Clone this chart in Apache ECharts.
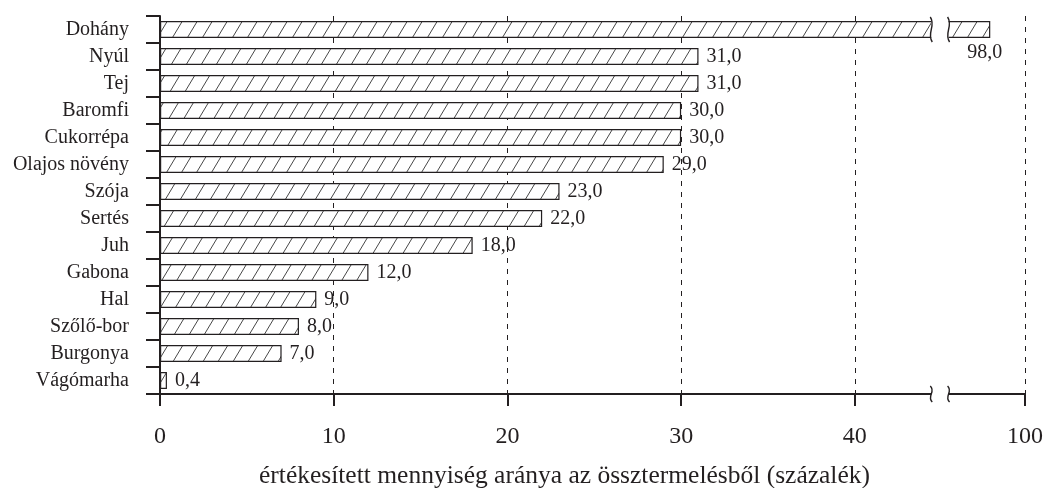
<!DOCTYPE html>
<html>
<head>
<meta charset="utf-8">
<script src="https://cdn.jsdelivr.net/npm/echarts@6/dist/echarts.min.js"></script>
<style>
html,body{margin:0;padding:0;background:#fff;}
#chart{width:1046px;height:488px;}
</style>
</head>
<body>
<div id="chart"></div>
<script>
var categories = ['Dohány','Nyúl','Tej','Baromfi','Cukorrépa','Olajos növény','Szója','Sertés','Juh','Gabona','Hal','Szőlő-bor','Burgonya','Vágómarha'];
var values = [98.0, 31.0, 31.0, 30.0, 30.0, 29.0, 23.0, 22.0, 18.0, 12.0, 9.0, 8.0, 7.0, 0.4];
var xTickLabels = [0, 10, 20, 30, 40, 100];
var breakStart = 44.4, breakEnd = 95.6;
var axisTitle = 'értékesített mennyiség aránya az össztermelésből (százalék)';

var FONT = 'Liberation Serif';
var INK = '#231f20';

// hatch pattern
var pc = document.createElement('canvas');
var PW = 15, PH = 25;
pc.width = PW; pc.height = PH;
var g = pc.getContext('2d');
g.fillStyle = '#fff'; g.fillRect(0, 0, PW, PH);
g.strokeStyle = '#333'; g.lineWidth = 0.9;
for (var k = -1; k <= 1; k++) {
  g.beginPath();
  g.moveTo(k * PW - PW, 2 * PH);
  g.lineTo(k * PW + 2 * PW, -PH);
  g.stroke();
}

var chart = echarts.init(document.getElementById('chart'), null, {renderer: 'canvas'});

var seriesData = values.map(function (v, i) {
  var d = {value: v};
  if (i === 0) {
    d.label = {position: 'insideBottomRight', distance: 0, offset: [12, 25]};
  }
  return d;
});

var option = {
  backgroundColor: '#fff',
  animation: false,
  grid: {left: 160, right: 21, top: 16, bottom: 94, containLabel: false, outerBoundsMode: 'none'},
  xAxis: {
    type: 'value',
    min: 0,
    max: 100,
    interval: 10,
    breaks: [{start: breakStart, end: breakEnd, gap: '2%'}],
    breakArea: {show: false},
    name: axisTitle,
    nameLocation: 'middle',
    nameGap: 69,
    nameTextStyle: {fontFamily: FONT, fontSize: 25.5, color: INK, padding: [0, 56, 0, 0]},
    axisLine: {show: true, lineStyle: {color: INK, width: 2}},
    axisTick: {show: true, length: 12, customValues: xTickLabels, lineStyle: {color: INK, width: 2}},
    axisLabel: {
      fontFamily: FONT, fontSize: 24, color: INK, margin: 31,
      customValues: xTickLabels,
      showMinLabel: true, showMaxLabel: true,
      formatter: function (v) { return String(v); }
    },
    splitLine: {show: true, lineStyle: {color: INK, width: 1, type: [5, 6]}}
  },
  yAxis: {
    type: 'category',
    data: categories,
    inverse: true,
    axisLine: {show: true, lineStyle: {color: INK, width: 2}},
    axisTick: {show: true, length: 14, lineStyle: {color: INK, width: 2}},
    axisLabel: {fontFamily: FONT, fontSize: 20, color: INK, margin: 31}
  },
  series: [{
    type: 'bar',
    data: seriesData,
    barWidth: 17,
    itemStyle: {color: {image: pc, repeat: 'repeat'}, borderColor: INK, borderWidth: 1.2},
    label: {
      show: true,
      position: 'right',
      distance: 8,
      fontFamily: FONT, fontSize: 20, color: INK,
      formatter: function (p) { return p.value.toFixed(1).replace('.', ','); }
    }
  }]
};
chart.setOption(option);

function curl(x, top, bottom) {
  var h = bottom - top;
  return {
    type: 'bezierCurve',
    shape: {x1: x - 1, y1: top, cpx1: x + 5, cpy1: top + h * 0.35, cpx2: x - 5, cpy2: top + h * 0.65, x2: x + 1, y2: bottom},
    style: {stroke: INK, lineWidth: 1.4, fill: null},
    z: 101
  };
}

function decorate() {
  var xl = chart.convertToPixel({xAxisIndex: 0}, breakStart);
  var xr = chart.convertToPixel({xAxisIndex: 0}, breakEnd);
  var yc = chart.convertToPixel({yAxisIndex: 0}, categories[0]);
  var axisY = chart.convertToPixel({yAxisIndex: 0}, categories[categories.length - 1]) + 13.5;
  var bt = yc - 8.5, bb = yc + 8.5;
  var els = [
    {type: 'rect', shape: {x: xl, y: 0, width: xr - xl, height: axisY + 3}, style: {fill: '#fff'}, z: 100},
    curl(xl, bt - 4, bb + 4),
    curl(xr, bt - 4, bb + 4),
    curl(xl, axisY - 8, axisY + 8),
    curl(xr, axisY - 8, axisY + 8)
  ];
  chart.setOption({graphic: {elements: els}});
}
decorate();
</script>
</body>
</html>
